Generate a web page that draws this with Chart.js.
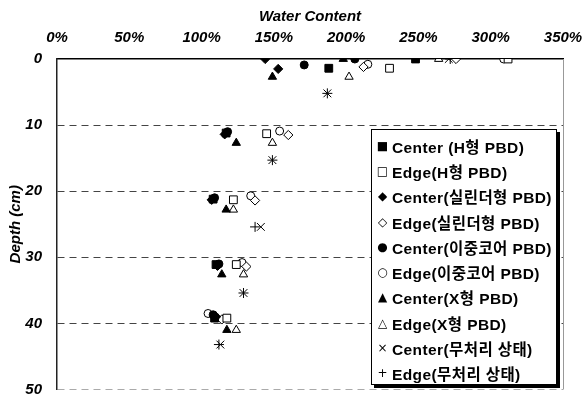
<!DOCTYPE html>
<html><head><meta charset="utf-8">
<script src="https://cdn.jsdelivr.net/npm/chart.js@4"></script>
<style>
html,body{margin:0;padding:0;background:#fff;}
#wrap{position:relative;width:582px;height:396px;overflow:hidden;}
#c{position:absolute;left:0;top:0;}
#legend{position:absolute;left:371px;top:129px;width:186px;height:256px;border:1px solid #000;box-shadow:3px 3px 0 #000;background:#fff;box-sizing:border-box;padding-top:3px;font:bold 15.5px "Liberation Sans","Noto Sans CJK KR",Arial,sans-serif;letter-spacing:0.4px;color:#000;}
.item{height:25.3px;display:flex;align-items:center;white-space:nowrap;}
.sym{display:inline-block;width:13px;margin-left:4px;margin-right:3px;text-align:center;font:12px "DejaVu Sans",sans-serif;line-height:12px;letter-spacing:0;}
</style></head>
<body>
<div id="wrap"><canvas id="c" width="582" height="396"></canvas><div id="legend"></div></div>
<script>
// ---- data (water content %, depth cm) ----
const seriesLabels = ['Center (H형 PBD)','Edge(H형 PBD)','Center(실린더형 PBD)','Edge(실린더형 PBD)','Center(이중코어 PBD)','Edge(이중코어 PBD)','Center(X형 PBD)','Edge(X형 PBD)','Center(무처리 상태)','Edge(무처리 상태)'];
const xTickValues = [0,50,100,150,200,250,300,350];
const xTickLabels = ['0%','50%','100%','150%','200%','250%','300%','350%'];
const yTickValues = [0,10,20,30,40,50];
const yTickLabels = ['0','10','20','30','40','50'];

const hCenterWC = [248,188,117,108,110,109];
const hCenterDepth = [0,1.4,11.2,21.2,31.1,39.2];
const hEdgeWC = [312,230,145,122,124,117.5];
const hEdgeDepth = [0,1.4,11.3,21.3,31.1,39.2];
const cylCenterWC = [144,153,116,107,111,110];
const cylCenterDepth = [0,1.5,11.4,21.3,31.3,39];
const cylEdgeWC = [276,212,160,137,131,114];
const cylEdgeDepth = [0,1.2,11.5,21.4,31.4,39.4];
const dualCenterWC = [206,171,118,109,112,108];
const dualCenterDepth = [0,0.9,11,21,31,38.7];
const dualEdgeWC = [309,215,154,134,128,104.5];
const dualEdgeDepth = [0,0.8,10.9,20.7,30.8,38.5];
const xCenterWC = [198,149,124,117,114,117.5];
const xCenterDepth = [0,2.7,12.7,22.8,32.6,41];
const xEdgeWC = [264,202,149,122,129,124];
const xEdgeDepth = [0,2.7,12.7,22.8,32.6,41];
const noneCenterWC = [271,187,149,141,129,113];
const noneCenterDepth = [0,5.2,15.3,25.4,35.4,43.2];
const noneEdgeWC = [272,187,149,137,129,112];
const noneEdgeDepth = [0,5.2,15.3,25.4,35.4,43.2];

const seriesWC = [hCenterWC,hEdgeWC,cylCenterWC,cylEdgeWC,dualCenterWC,dualEdgeWC,xCenterWC,xEdgeWC,noneCenterWC,noneEdgeWC];
const seriesDepth = [hCenterDepth,hEdgeDepth,cylCenterDepth,cylEdgeDepth,dualCenterDepth,dualEdgeDepth,xCenterDepth,xEdgeDepth,noneCenterDepth,noneEdgeDepth];

// ---- styles ----
const styles = [
  {ps:'rect', r:5.5, fill:'#000'},
  {ps:'rect', r:5.5, fill:'#fff'},
  {ps:'rectRot', r:4.6, fill:'#000'},
  {ps:'rectRot', r:4.6, fill:'#fff'},
  {ps:'circle', r:4, fill:'#000'},
  {ps:'circle', r:4, fill:'#fff'},
  {ps:'triangle', r:4.8, fill:'#000'},
  {ps:'triangle', r:4.8, fill:'#fff'},
  {ps:'crossRot', r:5.5, fill:'#000'},
  {ps:'cross', r:5, fill:'#000'}
];
const legendSyms = ['■','□','◆','◇','●','○','▲','△','×','+'];

const datasets = seriesLabels.map((lab,i)=>({
  label: lab,
  data: seriesWC[i].map((v,j)=>({x:v, y:seriesDepth[i][j]})),
  pointStyle: styles[i].ps,
  pointRadius: styles[i].r,
  pointHoverRadius: styles[i].r,
  pointBackgroundColor: styles[i].fill,
  pointBorderColor: '#000',
  pointBorderWidth: 1,
  showLine: false
}));

const frame = {
  id:'frame',
  beforeDatasetsDraw(c){
    const a=c.chartArea, ctx=c.ctx;
    ctx.save();
    ctx.strokeStyle='#999'; ctx.lineWidth=1;
    ctx.beginPath(); ctx.moveTo(Math.round(a.right)+0.5,a.top); ctx.lineTo(Math.round(a.right)+0.5,a.bottom); ctx.stroke();
    ctx.restore();
  }
};

const tickFont = {family:'"Liberation Sans", Arial, sans-serif', size:15, weight:'bold', style:'italic'};

new Chart(document.getElementById('c'), {
  type:'scatter',
  data:{datasets},
  plugins:[frame],
  options:{
    responsive:false, animation:false,
    layout:{padding:{left:0,top:0,right:19,bottom:6}},
    plugins:{legend:{display:false}, tooltip:{enabled:false}},
    scales:{
      x:{
        position:'top', min:0, max:350,
        ticks:{stepSize:50, padding:12, color:'#000', font:tickFont, maxRotation:0, autoSkip:false,
          callback:(v)=>xTickLabels[xTickValues.indexOf(v)]},
        grid:{display:false, drawTicks:false},
        border:{display:true, color:'#000', width:1.5},
        title:{display:true, text:'Water Content', color:'#000', font:tickFont, padding:{top:8,bottom:0}},
        afterFit(s){ s.height=59; s.paddingLeft=0; s.paddingRight=0; }
      },
      y:{
        reverse:true, min:0, max:50,
        ticks:{stepSize:10, padding:15, color:'#000', font:tickFont, callback:(v)=>yTickLabels[yTickValues.indexOf(v)]},
        grid:{drawTicks:false, lineWidth:1,
          color:(ctx)=> ctx.tick && ctx.tick.value===0 ? 'rgba(0,0,0,0)' : (ctx.tick && ctx.tick.value===50 ? '#aaa' : '#444')},
        border:{display:true, color:'#222', width:1.5, dash:[7,5]},
        title:{display:true, text:'Depth (cm)', color:'#000', font:tickFont, padding:{top:7,bottom:0}},
        afterFit(s){ s.width=57; s.paddingTop=0; s.paddingBottom=0; }
      }
    }
  }
});

// HTML legend from the same series labels
const lg = document.getElementById('legend');
seriesLabels.forEach((lab,i)=>{
  const d=document.createElement('div'); d.className='item';
  const s=document.createElement('span'); s.className='sym'; s.textContent=legendSyms[i];
  d.appendChild(s); d.appendChild(document.createTextNode(lab));
  lg.appendChild(d);
});
</script>
</body></html>
